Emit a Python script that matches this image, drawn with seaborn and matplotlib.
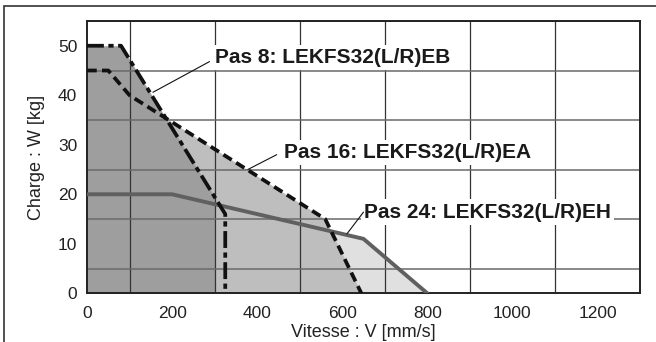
import matplotlib
matplotlib.use("Agg")
import matplotlib.pyplot as plt
import seaborn as sns
import numpy as np
from matplotlib.patches import Rectangle

# ---- data ----
pas8_v = [0, 80, 325, 325]
pas8_w = [50, 50, 16, 0]
pas16_v = [0, 50, 100, 560, 645]
pas16_w = [45, 45, 40, 15, 0]
pas24_v = [0, 200, 650, 800]
pas24_w = [20, 20, 11, 0]
dark_v = [0, 80, 300, 300]
dark_w = [50, 50, 19.5, 0]

labels = ["Pas 8: LEKFS32(L/R)EB", "Pas 16: LEKFS32(L/R)EA", "Pas 24: LEKFS32(L/R)EH"]
label_pos = [(302, 47.6), (464, 28.5), (652, 16.4)]
leader_from = [(155, 40.6), (378, 25.0), (611, 12.0)]
leader_to = [(288, 46.8), (446, 28.0), (650, 16.4)]

x_ticks = [0, 200, 400, 600, 800, 1000, 1200]
y_ticks = [0, 10, 20, 30, 40, 50]

sns.set_theme(style="white")
plt.rcParams["font.family"] = ["Liberation Sans", "DejaVu Sans"]

fig = plt.figure(figsize=(6.56, 3.42), dpi=100)
ax = fig.add_axes([87 / 656, 1 - 293.3 / 342, (640 - 87) / 656, (293.3 - 21) / 342])

# fills
ax.fill_between(pas24_v, pas24_w, 0, color="#e0e0e0", lw=0, zorder=0.1)
ax.fill_between(pas16_v, pas16_w, 0, color="#bebebe", lw=0, zorder=0.2)
ax.fill_between(dark_v, dark_w, 0, color="#9e9e9e", lw=0, zorder=0.3)

# lines
sns.lineplot(x=pas24_v, y=pas24_w, ax=ax, sort=False, estimator=None,
             color="#606060", lw=2.8, zorder=3)
sns.lineplot(x=pas16_v, y=pas16_w, ax=ax, sort=False, estimator=None,
             color="#111111", lw=2.7, linestyle=(0, (2.6, 1.4)), zorder=3.2)
sns.lineplot(x=pas8_v, y=pas8_w, ax=ax, sort=False, estimator=None,
             color="#111111", lw=2.7, linestyle=(0, (4.5, 1.2, 1.4, 1.2)), zorder=3.4)

ax.set_xlim(0, 1300)
ax.set_ylim(0, 55)
ax.set_xticks(x_ticks)
ax.set_yticks(y_ticks)
ax.set_xticks(np.arange(0, 1301, 100), minor=True)
ax.set_yticks(np.arange(0, 56, 5), minor=True)
ax.set_axisbelow(True)
ax.grid(which="minor", axis="x", color="#333333", lw=0.9)
ax.grid(which="minor", axis="y", color="#6a6a6a", lw=1.1)
ax.tick_params(which="both", length=0, labelsize=12.5, colors="#222222")
ax.tick_params(axis="y", pad=7)
ax.tick_params(axis="x", pad=9)
for s in ax.spines.values():
    s.set_color("#222222")
    s.set_linewidth(1.4)

ax.set_xlabel("Vitesse : V [mm/s]", fontsize=13, color="#222222", labelpad=2)
ax.set_ylabel("Charge : W [kg]", fontsize=13, color="#222222", labelpad=9)

for lab, (tx, ty), (fx, fy), (ex, ey) in zip(labels, label_pos, leader_from, leader_to):
    ax.text(tx, ty, lab, ha="left", va="center", fontsize=15, fontweight="bold",
            color="#1a1a1a", zorder=6,
            bbox=dict(facecolor="white", edgecolor="none", boxstyle="square,pad=0.15"))
    ax.plot([fx, ex], [fy, ey], color="#111111", lw=0.8, zorder=7)

fig.add_artist(Rectangle((4 / 656, -0.1), 1.1, 1 - 6 / 342 + 0.1, transform=fig.transFigure,
                         fill=False, edgecolor="#333333", lw=1.2))

fig.savefig("out.png", dpi=100)
